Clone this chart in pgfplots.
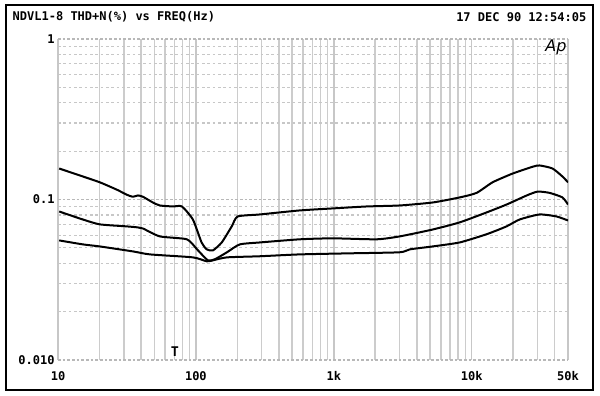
\documentclass[border=0pt]{standalone}
\usepackage{pgfplots}
\pgfplotsset{compat=1.18}
\usepackage{fontspec}
\setmonofont{DejaVu Sans Mono}
\setsansfont{DejaVu Sans}
\begin{document}
\begin{tikzpicture}
\begin{scope}[x=0.75pt,y=0.75pt]
\path[use as bounding box] (0,0) rectangle (600,396);
\end{scope}
\begin{axis}[
  at={(43.5pt,27pt)}, anchor=south west, scale only axis,
  width=382.5pt, height=240.75pt,
  xmode=log, ymode=log,
  xmin=10, xmax=50000, ymin=0.01, ymax=1,
  xtick={10,100,1000,10000,50000},
  xticklabels={10,100,1k,10k,50k},
  ytick={0.01,0.1,1},
  yticklabels={0.010,0.1,1},
  minor xtick={20,30,40,50,60,70,80,90,200,300,400,500,600,700,800,900,2000,3000,4000,5000,6000,7000,8000,9000,20000,30000,40000},
  minor ytick={0.02,0.03,0.04,0.05,0.06,0.07,0.08,0.09,0.2,0.3,0.4,0.5,0.6,0.7,0.8,0.9},
  grid=both,
  major x grid style={black!22, line width=1.2pt},
  minor x grid style={black!20, line width=1.2pt},
  major y grid style={black!28, line width=1pt, dash pattern=on 2pt off 1.5pt},
  minor y grid style={black!22, line width=0.9pt, dash pattern=on 2pt off 2pt},
  axis line style={draw=none},
  tick style={draw=none},
  ticklabel style={font=\ttfamily\bfseries\fontsize{9}{10}\selectfont},
  xticklabel style={yshift=-5pt},
  yticklabel style={xshift=1pt},
]
% top curve
\addplot[black, line width=1.5pt, line join=round, smooth, tension=0.35] coordinates {
(10.2,0.156) (15.2,0.139) (20.1,0.128) (26.8,0.115) (31.6,0.107) (34.9,0.104)
(38.0,0.106) (41.3,0.104) (48.8,0.0958) (54.8,0.0918) (68.1,0.0905) (79.2,0.0905)
(95.1,0.0751) (110,0.054) (120,0.0489) (133,0.0482) (154,0.054) (182,0.068)
(201,0.0784) (291,0.0807) (567,0.0855) (984,0.088) (1734,0.0905) (3006,0.0918)
(5210,0.0958) (8180,0.103) (10870,0.110) (14190,0.128) (19800,0.145) (27700,0.160)
(31100,0.163) (38600,0.156) (45600,0.139) (50000,0.128)
};
% middle curve
\addplot[black, line width=1.5pt, line join=round, smooth, tension=0.35] coordinates {
(10.2,0.0842) (15.2,0.075) (20.1,0.070) (31.6,0.068) (38.0,0.067) (41.3,0.066)
(54.8,0.0589) (86,0.0565) (102,0.0489) (122,0.0418) (137,0.0424) (168,0.0469)
(208,0.0525) (291,0.054) (567,0.0565) (984,0.0573) (2050,0.0565) (3006,0.0589)
(5210,0.065) (8180,0.072) (12800,0.083) (17900,0.093) (25100,0.106) (30100,0.112)
(36700,0.110) (45600,0.103) (50000,0.093)
};
% bottom curve
\addplot[black, line width=1.5pt, line join=round, smooth, tension=0.35] coordinates {
(10.2,0.0556) (15.2,0.0525) (20.1,0.051) (34.9,0.0475) (46.4,0.0455) (95,0.0436)
(120,0.0412) (133,0.0418) (168,0.0436) (291,0.0443) (567,0.0455) (1306,0.0462)
(3006,0.0469) (3560,0.0489) (5210,0.051) (8180,0.054) (12800,0.0607) (17900,0.068)
(22300,0.0751) (31100,0.0807) (41300,0.0784) (50000,0.074)
};
\end{axis}
\begin{scope}[x=0.75pt,y=0.75pt]
\draw[black, line width=1.8pt] (6,6) rectangle (593,391);
\node[anchor=west, font=\ttfamily\bfseries\fontsize{9}{10}\selectfont] at (8,379) {NDVL1-8 THD+N(\%) vs FREQ(Hz)};
\node[anchor=east, font=\ttfamily\bfseries\fontsize{9}{10}\selectfont] at (591,379) {17 DEC 90 12:54:05};
\node[font=\sffamily\itshape\fontsize{12}{13}\selectfont] at (556,349) {Ap};
\node[font=\ttfamily\bfseries\fontsize{10}{11}\selectfont] at (175,44) {T};
\end{scope}
\end{tikzpicture}
\end{document}
